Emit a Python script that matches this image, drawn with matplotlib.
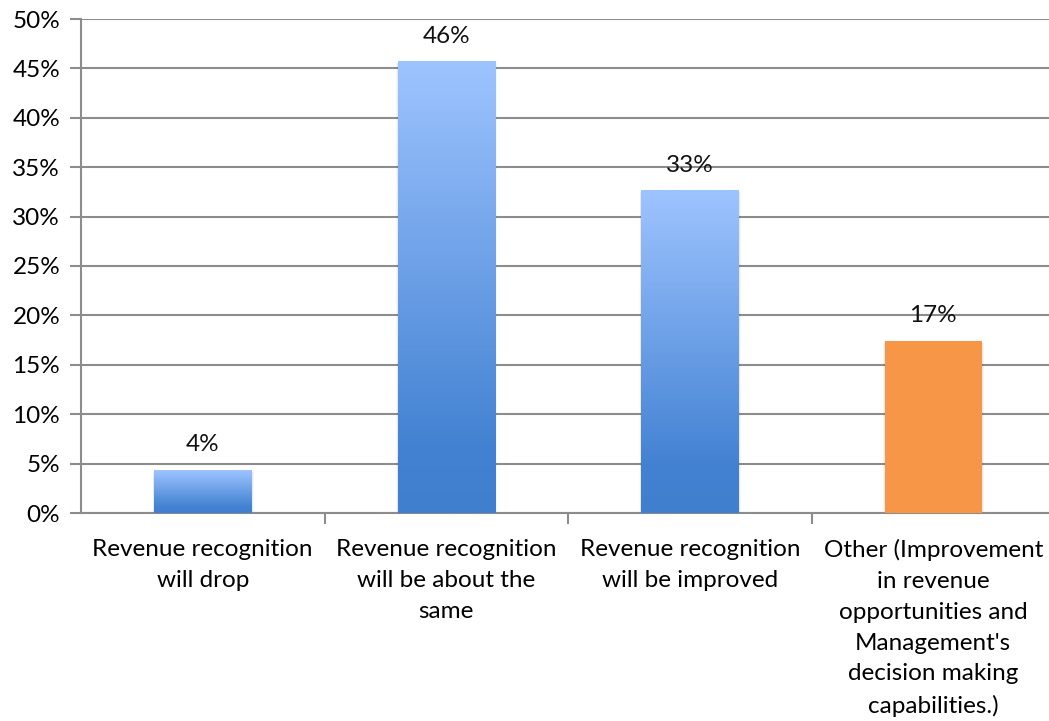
import numpy as np
import matplotlib
matplotlib.use("Agg")
import matplotlib.pyplot as plt
from matplotlib.colors import LinearSegmentedColormap
from matplotlib.patches import Rectangle

plt.rcParams['font.family'] = ['Lato', 'DejaVu Sans']

categories = [
    "Revenue recognition\nwill drop",
    "Revenue recognition\nwill be about the\nsame",
    "Revenue recognition\nwill be improved",
    "Other (Improvement\nin revenue\nopportunities and\nManagement's\ndecision making\ncapabilities.)",
]
shares = [4.35, 45.65, 32.61, 17.39]   # percent of respondents
gradient_bar = [True, True, True, False]
orange = "#F79646"

fig = plt.figure(figsize=(10.49, 7.21), dpi=100)
ax = fig.add_axes([81 / 1049, 1 - 513 / 721, 974 / 1049, 494 / 721])

# blue fill: light at the top, darker near the base
blue = LinearSegmentedColormap.from_list(
    "bluefill", [(0.0, "#3F7FCE"), (0.15, "#4382D2"), (1.0, "#9EC4FF")])
grad = np.linspace(0, 1, 256).reshape(-1, 1)

width = 0.4
x = np.arange(len(categories))
for xi, v, g in zip(x, shares, gradient_bar):
    x0 = xi - width / 2
    # soft drop shadow
    for k, a in ((0.010, 0.035), (0.005, 0.05)):
        ax.add_patch(Rectangle((x0 - k / 2, -0.3), width + k * 1.5, v + 0.15,
                               facecolor="#000000", alpha=a, lw=0, zorder=2))
    if g:
        ax.imshow(grad, cmap=blue, origin="lower", aspect="auto",
                  extent=(x0, x0 + width, 0, v), zorder=3)
    else:
        ax.add_patch(Rectangle((x0, 0), width, v, facecolor=orange, lw=0, zorder=3))
    ax.annotate(f"{v:.0f}%", (xi, v), xytext=(0, 11), textcoords="offset points",
                ha="center", va="bottom", fontsize=17.5, color="#111111", zorder=5)

ax.set_xlim(-0.5, len(categories) - 0.5)
ax.set_ylim(0, 50)
ax.set_yticks(np.arange(0, 51, 5))
ax.set_yticklabels([f"{t}%" for t in range(0, 51, 5)])
ax.yaxis.grid(True, color="#8C8C8C", lw=1.5, zorder=1)
ax.set_axisbelow(True)

ax.set_xticks(x)
ax.set_xticklabels(categories, linespacing=1.57, va="top")
ax.set_xticks(np.arange(0.5, len(categories) - 0.5, 1), minor=True)
ax.tick_params(axis="x", which="major", length=0, pad=19, labelsize=17.5)
ax.tick_params(axis="x", which="minor", length=8, width=1.5, color="#8C8C8C")
ax.tick_params(axis="y", length=8, width=1.5, color="#8C8C8C", pad=7, labelsize=17.5)

for side in ("top", "right"):
    ax.spines[side].set_visible(False)
for side in ("left", "bottom"):
    ax.spines[side].set_color("#8C8C8C")
    ax.spines[side].set_linewidth(1.5)

fig.savefig("out.png", dpi=100)
